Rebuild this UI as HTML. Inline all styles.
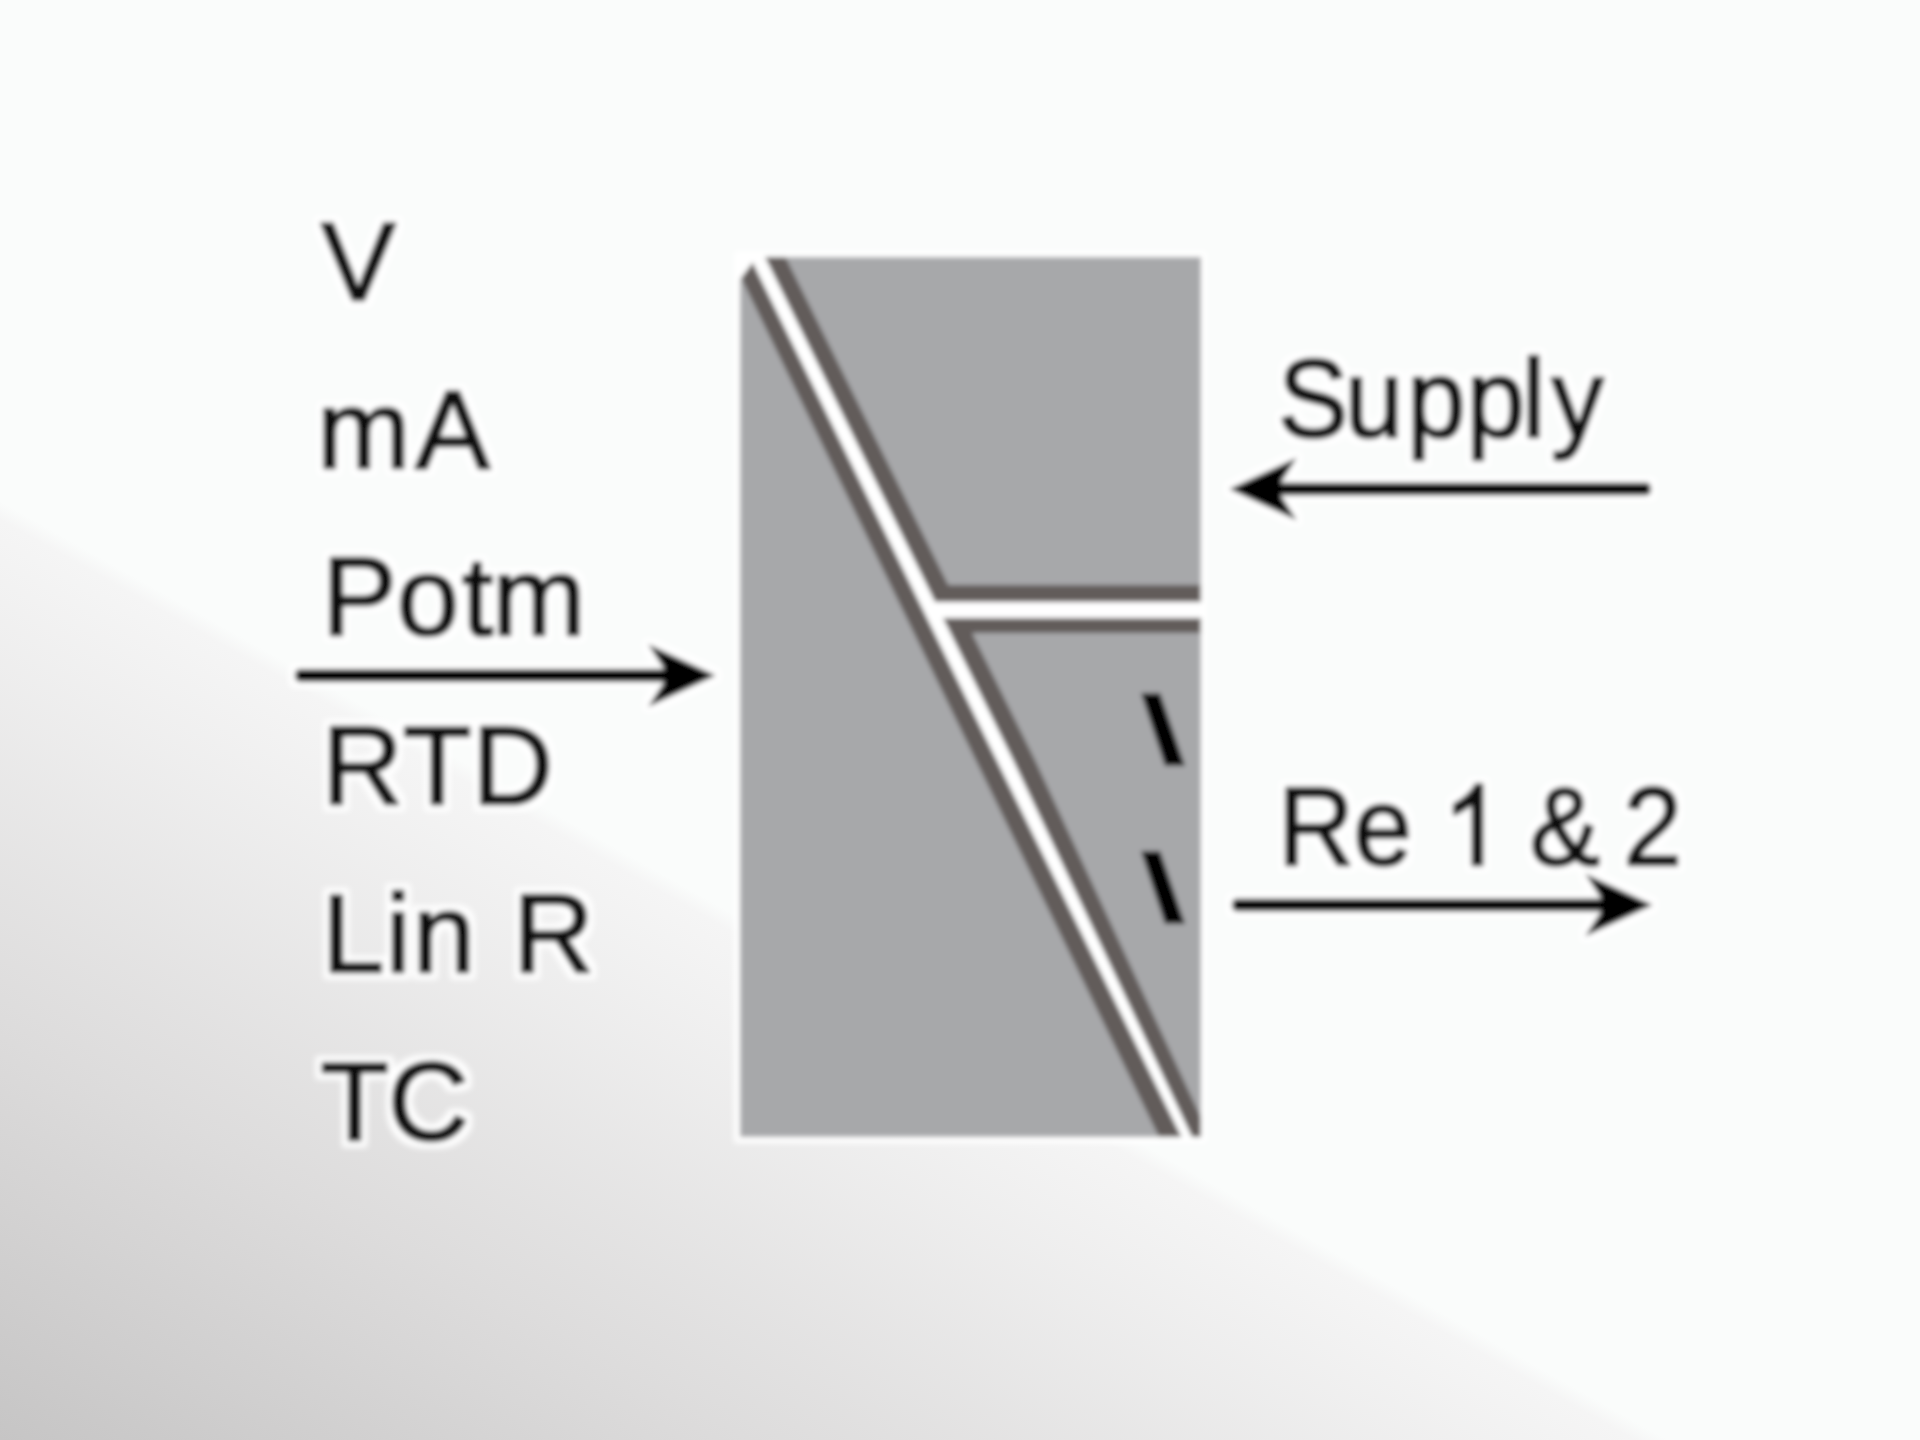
<!DOCTYPE html>
<html>
<head>
<meta charset="utf-8">
<style>
html,body{margin:0;padding:0;width:1920px;height:1440px;overflow:hidden;background:#fafcfb;}
svg{display:block;position:absolute;left:0;top:0;}
text{font-family:"Liberation Sans",sans-serif;font-size:112px;fill:#0a0a0a;stroke:#0a0a0a;stroke-width:3.2px;stroke-linejoin:round;}
path.g{fill:#0a0a0a;stroke:#0a0a0a;stroke-width:3.2px;stroke-linejoin:round;vector-effect:non-scaling-stroke;}
</style>
</head>
<body>
<svg width="1920" height="1440" viewBox="0 0 1920 1440">
  <defs>
    <linearGradient id="bg" gradientUnits="userSpaceOnUse" x1="401.4" y1="727" x2="0" y2="1440">
      <stop offset="0" stop-color="#fafcfb"/>
      <stop offset="0.02" stop-color="#f5f5f5"/>
      <stop offset="0.55" stop-color="#dddcdc"/>
      <stop offset="1" stop-color="#c6c5c5"/>
    </linearGradient>
    <filter id="halo" x="-5%" y="-5%" width="110%" height="110%" filterUnits="objectBoundingBox">
      <feMorphology in="SourceAlpha" operator="dilate" radius="6" result="d"/>
      <feGaussianBlur in="d" stdDeviation="3" result="b"/>
      <feFlood flood-color="#ffffff"/>
      <feComposite in2="b" operator="in" result="w"/>
      <feGaussianBlur in="SourceGraphic" stdDeviation="2.4" result="s"/>
      <feMerge><feMergeNode in="w"/><feMergeNode in="s"/></feMerge>
    </filter>
    <clipPath id="box"><rect x="740" y="257" width="461" height="880"/></clipPath>
  </defs>
  <rect x="0" y="0" width="1920" height="1440" fill="url(#bg)"/>

  <g filter="url(#halo)">
    <!-- block -->
    <rect x="740" y="257" width="461" height="880" fill="#a7a8aa"/>
    <g clip-path="url(#box)">
      <!-- dark diagonal band -->
      <polygon points="731,257 785.5,257 1035,760 1210,1137 1159,1137" fill="#625c5a"/>
      <!-- dark horizontal band -->
      <polygon points="920,585 1202,585 1202,633 950,633" fill="#625c5a"/>
      <!-- white gaps -->
      <polygon points="750,257 765,257 1013,760 1192,1137 1181.5,1137" fill="#ffffff"/>
      <polygon points="736,254 759,254 736,285" fill="#ffffff"/>
      <polygon points="925,602 1202,602 1202,618 933,618" fill="#ffffff"/>
      <!-- dashes -->
      <polygon points="1141,693 1160,693 1185,766 1165,766" fill="#000"/>
      <polygon points="1141,851 1160,851 1185,924 1165,924" fill="#000"/>
    </g>

    <!-- left labels -->
    <g class="t">
    <text x="321" y="300">V</text>
    <text x="317 415.3" y="468">mA</text>
    <text x="322 396.7 462 492.2" y="635">Potm</text>
    <text x="322 402.9 472.3" y="804">RTD</text>
    <text x="322 385.8 412.7 475 513.1" y="972">Lin R</text>
    <text x="320.5 387.9" y="1140">TC</text>
    <!-- right labels (slightly condensed) -->
    <g transform="scale(0.94,1)">
      <text x="1359.6 1430.5 1496.8 1560.1 1619.1 1650.3" y="437">Supply</text>
      <text x="1359.6 1439.9" y="865">Re</text>
      <text x="1627.3" y="865">&amp;</text>
      <text x="1727.1" y="865">2</text>
      <path class="g" transform="translate(1534.9,865) scale(0.0546875,-0.0546875)" d="M763 0H583V1147Q518 1085 412.5 1023T223 930V1104Q374 1175 487 1276T647 1472H763Z"/>
    </g>
    </g>

    <!-- arrows -->
    <g fill="#000" stroke="none">
      <rect x="295" y="669" width="380" height="13" rx="5"/>
      <polygon points="716,675.5 648,644 668,675.5 648,707"/>
      <rect x="1272" y="482.5" width="379" height="13" rx="5"/>
      <polygon points="1229,489 1297,457.5 1277,489 1297,520.5"/>
      <rect x="1232" y="898.5" width="380" height="13" rx="5"/>
      <polygon points="1653,905 1585,873.5 1605,905 1585,936.5"/>
    </g>
  </g>
</svg>
</body>
</html>
